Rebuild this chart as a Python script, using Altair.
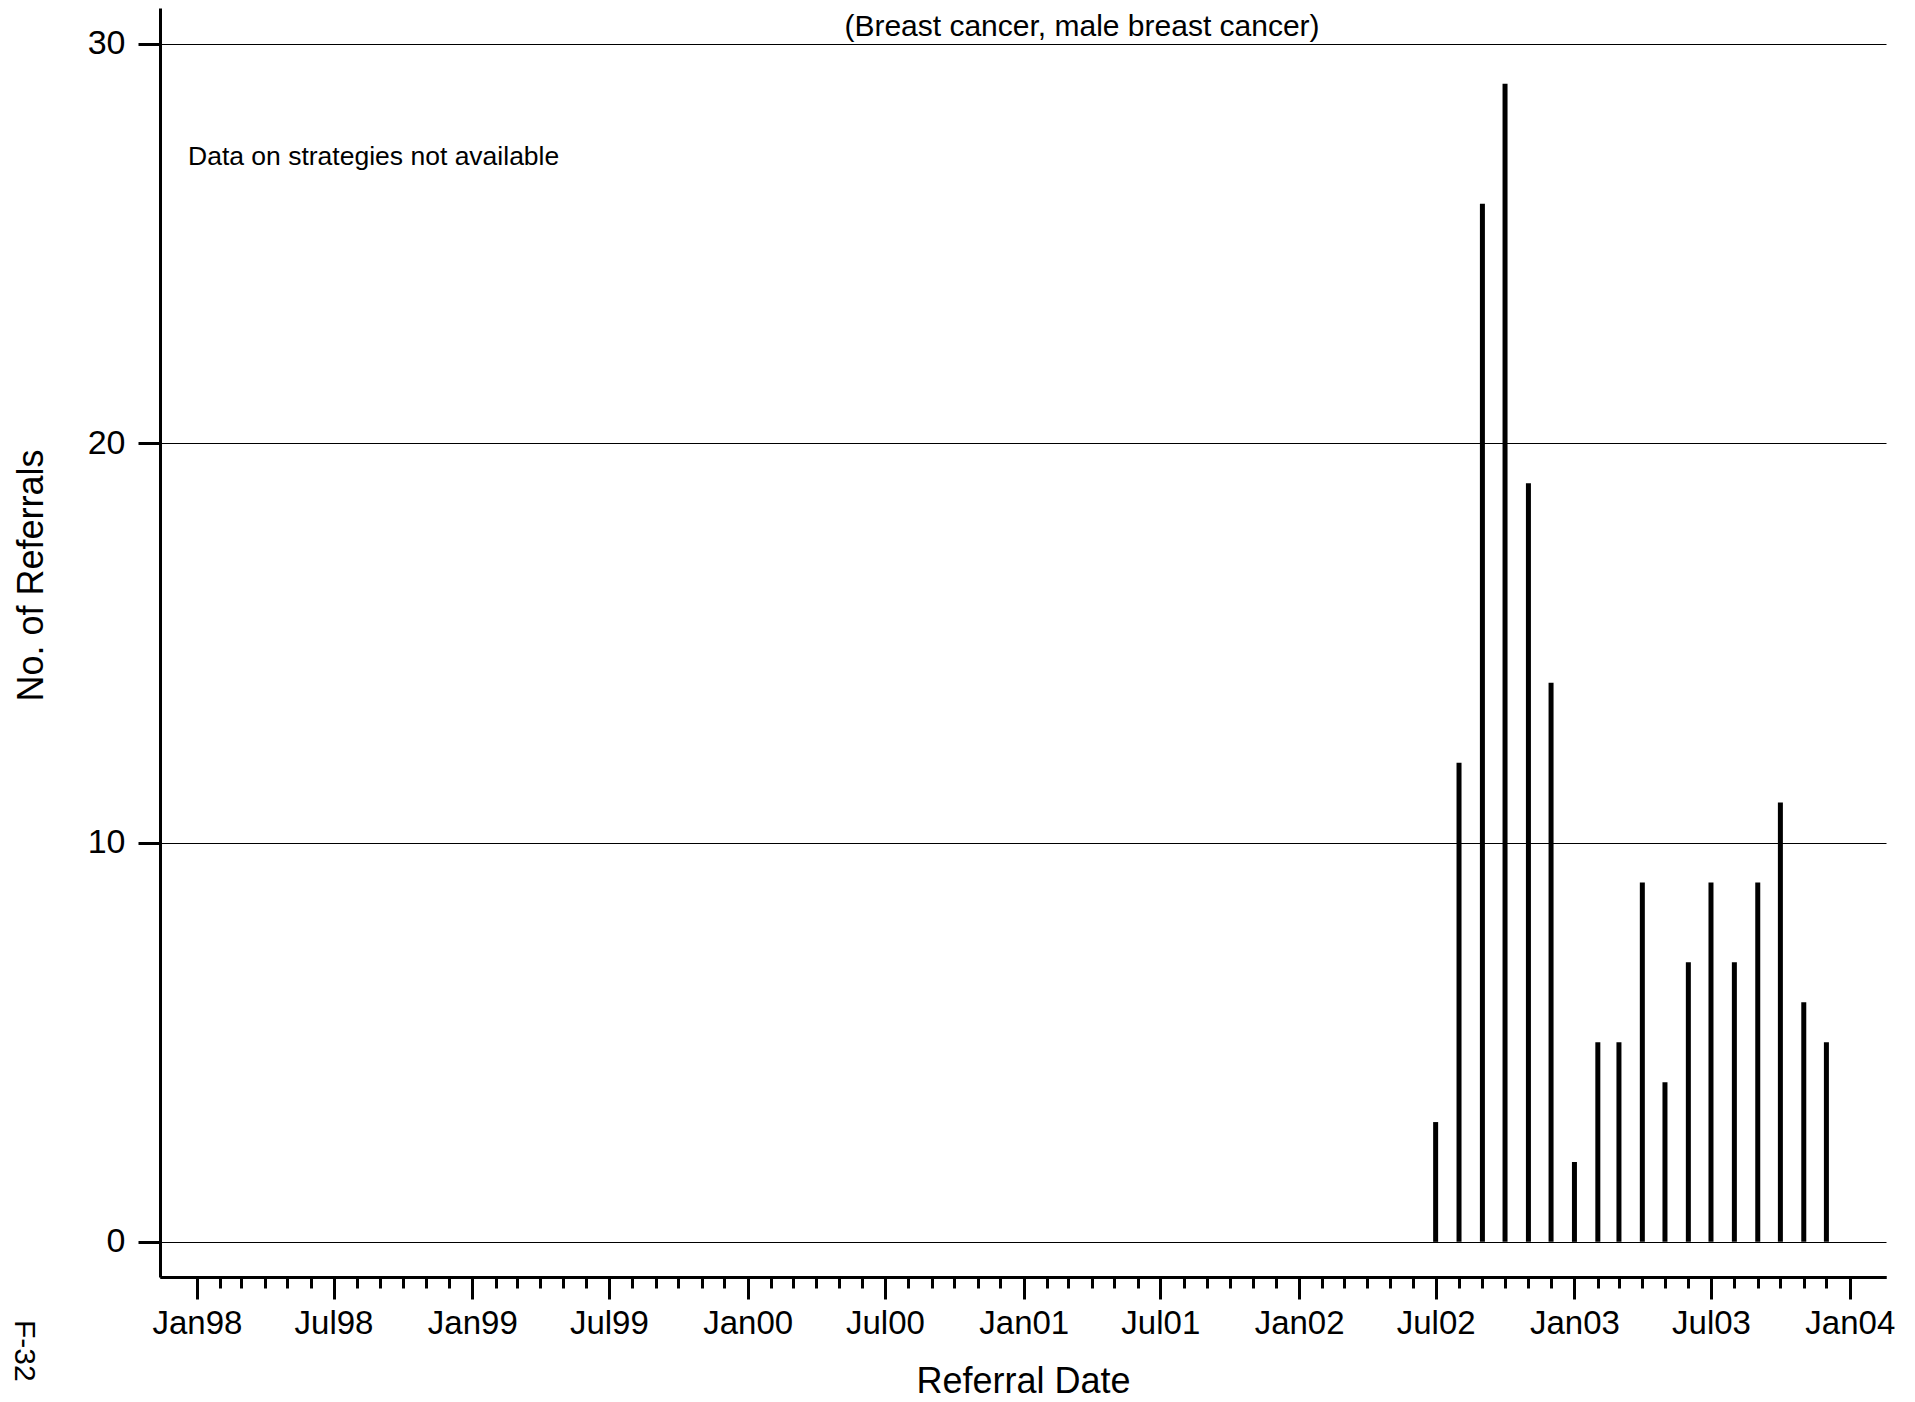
import altair as alt
import pandas as pd

# ---- data ----
months = ["2002-07-01", "2002-08-01", "2002-09-01", "2002-10-01", "2002-11-01", "2002-12-01",
          "2003-01-01", "2003-02-01", "2003-03-01", "2003-04-01", "2003-05-01", "2003-06-01",
          "2003-07-01", "2003-08-01", "2003-09-01", "2003-10-01", "2003-11-01", "2003-12-01"]
referrals = [3, 12, 26, 29, 19, 14, 2, 5, 5, 9, 4, 7, 9, 7, 9, 11, 6, 5]
y_ticks = [0, 10, 20, 30]
major_ticks = ["1998-01-01", "1998-07-01", "1999-01-01", "1999-07-01", "2000-01-01",
               "2000-07-01", "2001-01-01", "2001-07-01", "2002-01-01", "2002-07-01",
               "2003-01-01", "2003-07-01", "2004-01-01"]
x_domain = ["1997-11-13", "2004-02-18"]
y_domain = [-0.88, 30.9]
title_text = "(Breast cancer, male breast cancer)"
note_text = "Data on strategies not available"
page_text = "F-32"
x_title = "Referral Date"
y_title = "No. of Referrals"

FONT = "Liberation Sans"


def ms(s):
    return int(pd.Timestamp(s, tz="UTC").value // 10**6)


minor_tick_ms = [ms(d) for d in pd.date_range("1998-01-01", "2004-01-01", freq="MS")]
major_tick_ms = [ms(d) for d in major_ticks]

PLOT_W = 1726
PLOT_H = 1269

df = pd.DataFrame({"month": months, "n": referrals})
major_df = pd.DataFrame({"month": major_ticks})

xscale = alt.Scale(type="utc", domain=[ms(x_domain[0]), ms(x_domain[1])], nice=False)
yscale = alt.Scale(domain=y_domain, nice=False, zero=False)

y_axis = alt.Axis(
    values=y_ticks, grid=True, gridColor="black", gridWidth=1, gridOpacity=1,
    domain=True, domainColor="black", domainWidth=3,
    ticks=True, tickColor="black", tickWidth=3, tickSize=22,
    labelFontSize=34, labelColor="black", labelPadding=13, labelFont=FONT,
    title=y_title, titleFontSize=36, titleFontWeight="normal", titleColor="black",
    titleFont=FONT, titleX=-118, titleY=567, titleAlign="center",
    titleBaseline="alphabetic", titleAngle=270,
)

minor_axis = alt.Axis(
    values=minor_tick_ms, orient="bottom", labels=False, title=None,
    tickSize=11, tickWidth=3, tickColor="black",
    domain=True, domainColor="black", domainWidth=3, grid=False,
)

major_axis = alt.Axis(
    values=major_tick_ms, orient="bottom", format="%b%y",
    labelFontSize=33, labelColor="black", labelFont=FONT, labelBaseline="alphabetic",
    labelPadding=34, labelFlush=False, labelOverlap=False,
    tickSize=22, tickWidth=3, tickColor="black",
    domain=True, domainColor="black", domainWidth=3, grid=False,
    title=x_title, titleFontSize=36, titleFontWeight="normal", titleColor="black",
    titleFont=FONT, titleX=PLOT_W / 2, titleY=115, titleAlign="center",
    titleBaseline="alphabetic",
)

bars = alt.Chart(df).mark_rule(color="black", strokeWidth=5, strokeCap="butt").encode(
    x=alt.X("month:T", scale=xscale, axis=minor_axis),
    y=alt.Y("n:Q", scale=yscale, axis=y_axis),
    y2=alt.datum(0),
)

major = alt.Chart(major_df).mark_rule(opacity=0).encode(
    x=alt.X("month:T", scale=xscale, axis=major_axis),
)

title = alt.Chart(pd.DataFrame({"t": [title_text]})).mark_text(
    align="center", baseline="alphabetic", fontSize=30, font=FONT, color="black"
).encode(x=alt.value(922), y=alt.value(28), text="t:N")

note = alt.Chart(pd.DataFrame({"t": [note_text]})).mark_text(
    align="left", baseline="alphabetic", fontSize=26.5, font=FONT, color="black"
).encode(x=alt.value(28), y=alt.value(157), text="t:N")

page = alt.Chart(pd.DataFrame({"t": [page_text]})).mark_text(
    align="left", baseline="alphabetic", fontSize=30, font=FONT, color="black", angle=90
).encode(x=alt.value(-145), y=alt.value(1312), text="t:N")

chart = (
    alt.layer(bars, major, title, note, page)
    .resolve_axis(x="independent")
    .resolve_scale(x="shared")
    .properties(
        width=PLOT_W, height=PLOT_H,
        autosize=alt.AutoSizeParams(type="none"),
        padding={"left": 152, "top": 0, "right": 14, "bottom": 125},
        background="white",
    )
    .configure(font=FONT)
    .configure_view(strokeWidth=0, stroke="transparent")
)

chart.save("out.html", embed_options={"renderer": "svg", "actions": False})
